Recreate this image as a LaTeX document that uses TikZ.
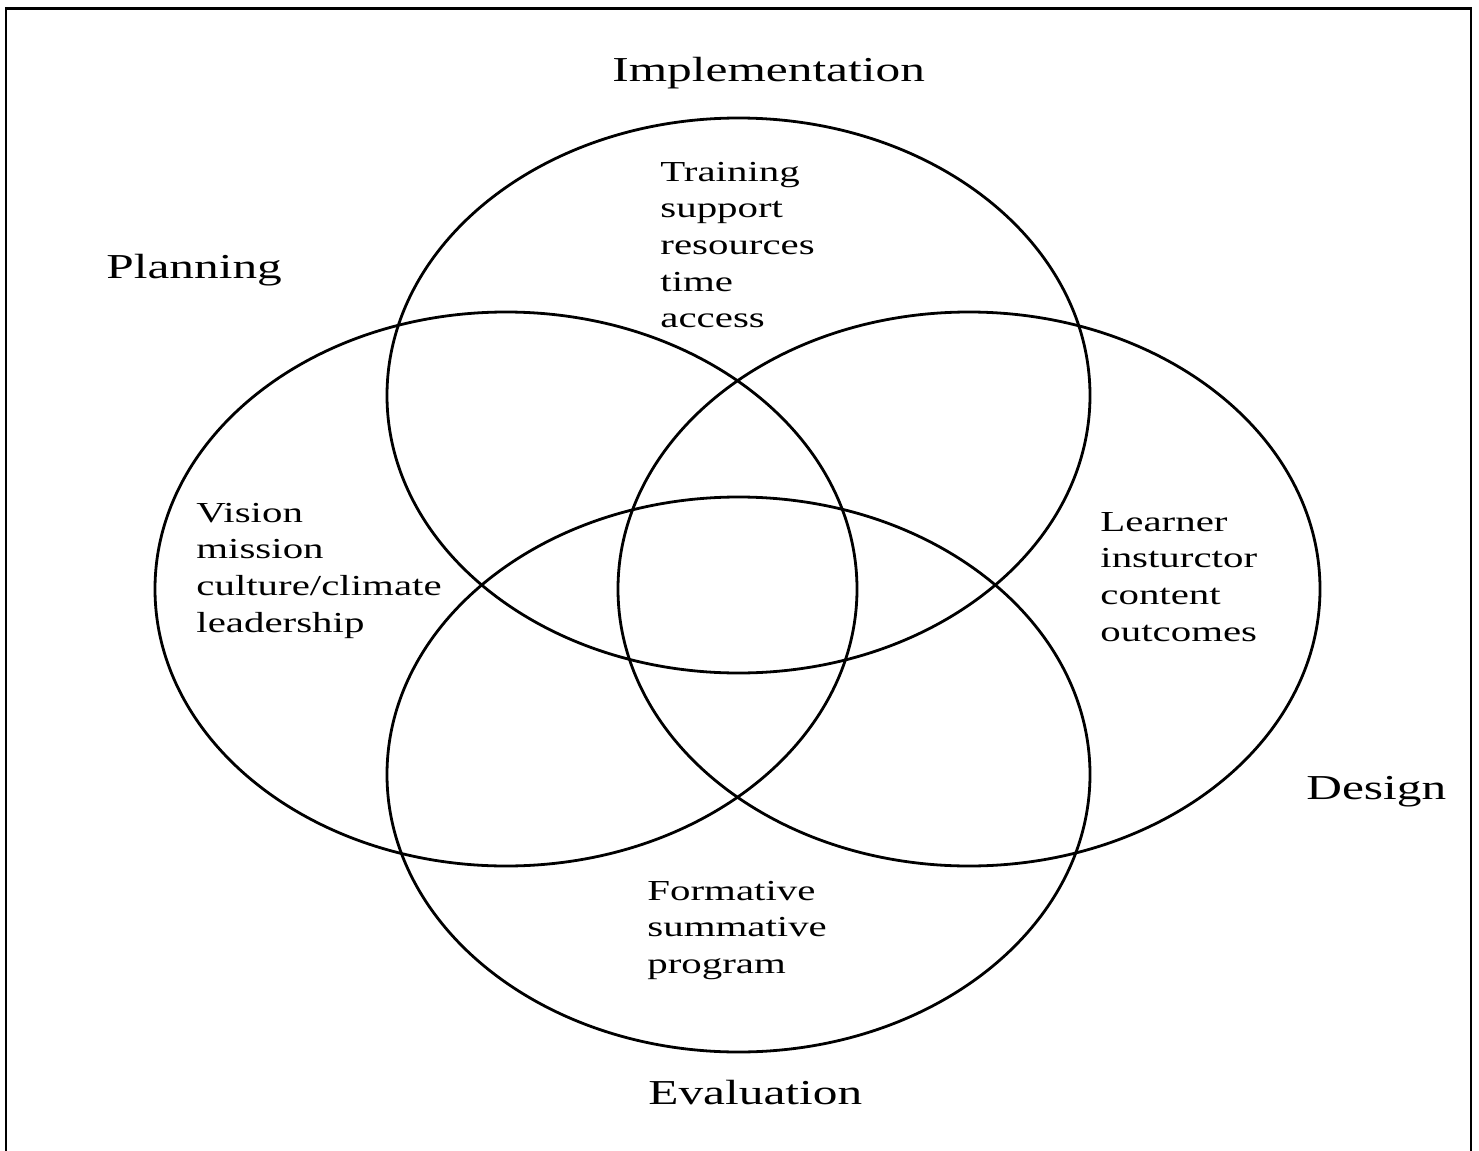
\documentclass[tikz,border=0pt]{standalone}
\usepackage{fontspec}
\setmainfont{Liberation Serif}[FakeStretch=1.41]
\begin{document}
\begin{tikzpicture}[x=0.5pt,y=-0.5pt,
  ring/.style={line width=1.4pt},
  title/.style={anchor=base west,inner sep=0pt,font=\fontsize{17.5pt}{21pt}\selectfont},
  % multi-line blocks are placed at the baseline of their last line
  items/.style={anchor=base west,inner sep=0pt,align=left,font=\fontsize{14.5pt}{18.35pt}\selectfont}]
\useasboundingbox (0,0) rectangle (1479,1151);
% outer frame, open at the bottom
\draw[line width=1.3pt] (6,1151) -- (6,8.5) -- (1471,8.5) -- (1471,1151);
% the four overlapping ellipses
\draw[ring] (738.5,395.5) ellipse [x radius=175.75pt, y radius=138.75pt];
\draw[ring] (738.5,774.5) ellipse [x radius=175.75pt, y radius=138.75pt];
\draw[ring] (506,589) ellipse [x radius=175.5pt, y radius=138.5pt];
\draw[ring] (969,589) ellipse [x radius=175.5pt, y radius=138.5pt];
% headings
\node[title] (impl) at (612,81) {Implementation};
\node[title] (plan) at (106,278) {Planning};
\node[title] (design) at (1306,799) {Design};
\node[title] (eval) at (648,1104) {Evaluation};
% contents of each ellipse
\node[items] (implitems) at (660,327.8) {Training\\support\\resources\\time\\access};
\node[items] (planitems) at (196,632.1) {Vision\\mission\\culture/climate\\leadership};
\node[items] (designitems) at (1100,641.1) {Learner\\insturctor\\content\\outcomes};
\node[items] (evalitems) at (647,973.4) {Formative\\summative\\program};
\end{tikzpicture}
\end{document}
